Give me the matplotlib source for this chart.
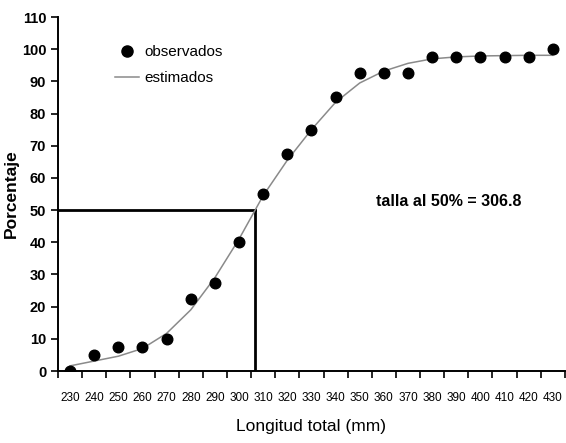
import matplotlib.pyplot as plt
from matplotlib.lines import Line2D

longitud = [230, 240, 250, 260, 270, 280, 290, 300, 310, 320, 330,
            340, 350, 360, 370, 380, 390, 400, 410, 420, 430]
observados = [0, 5, 7.5, 7.5, 10, 22.5, 27.5, 40, 55, 67.5, 75,
              85, 92.5, 92.5, 92.5, 97.5, 97.5, 97.5, 97.5, 97.5, 100]
estimados = [1.6, 3.1, 4.6, 7.0, 11.7, 19.0, 29.0, 41.0, 54.5, 65.5, 75.0,
             83.5, 89.5, 93.2, 95.6, 97.0, 97.6, 97.9, 98.0, 98.1, 98.1]
talla50 = 306.8

plt.rcParams['font.family'] = ['Liberation Sans', 'DejaVu Sans']

fig = plt.figure(figsize=(5.66, 4.43), dpi=100)
ax = fig.add_axes([0.1025, 0.1625, 0.8955, 0.7991])

ax.plot(longitud, estimados, color='#8a8a8a', lw=1.1, zorder=2)
ax.scatter(longitud, observados, s=58, c='k', zorder=3)
ax.plot([225, talla50], [50, 50], color='k', lw=2, zorder=1)
ax.plot([talla50, talla50], [0, 50], color='k', lw=2, zorder=1)

ax.set_xlim(225, 435)
ax.set_ylim(0, 110)
ax.set_yticks(range(0, 111, 10))
ax.set_xticks([x - 5 for x in longitud] + [435])
ax.set_xticklabels([])
ax.set_xticks(longitud, minor=True)
ax.set_xticklabels([str(x) for x in longitud], minor=True, fontsize=8.5)
ax.tick_params(axis='x', which='major', direction='out', length=5, width=1.2)
ax.tick_params(axis='x', which='minor', length=0, pad=15)
ax.tick_params(axis='y', direction='out', length=5, width=1.2, labelsize=10.5)
for lab in ax.get_yticklabels():
    lab.set_fontweight('bold')

for s in ['top', 'right']:
    ax.spines[s].set_visible(False)
ax.spines['left'].set_linewidth(1.4)
ax.spines['bottom'].set_linewidth(1.4)

ax.set_ylabel('Porcentaje', fontsize=12.5, fontweight='bold', labelpad=2)
ax.set_xlabel('Longitud total (mm)', fontsize=12.5, labelpad=11)

handles = [Line2D([], [], marker='o', color='k', ls='none', markersize=8),
           Line2D([], [], color='#8a8a8a', lw=1.1)]
ax.legend(handles, ['observados', 'estimados'], loc='upper left',
          bbox_to_anchor=(0.085, 0.96), frameon=False, fontsize=11,
          handlelength=1.6, handletextpad=0.3, labelspacing=0.8)

ax.text(0.627, 0.48, 'talla al 50% = 306.8', transform=ax.transAxes,
        fontsize=11.5, fontweight='bold', va='center')

fig.savefig('out.png', dpi=100)
